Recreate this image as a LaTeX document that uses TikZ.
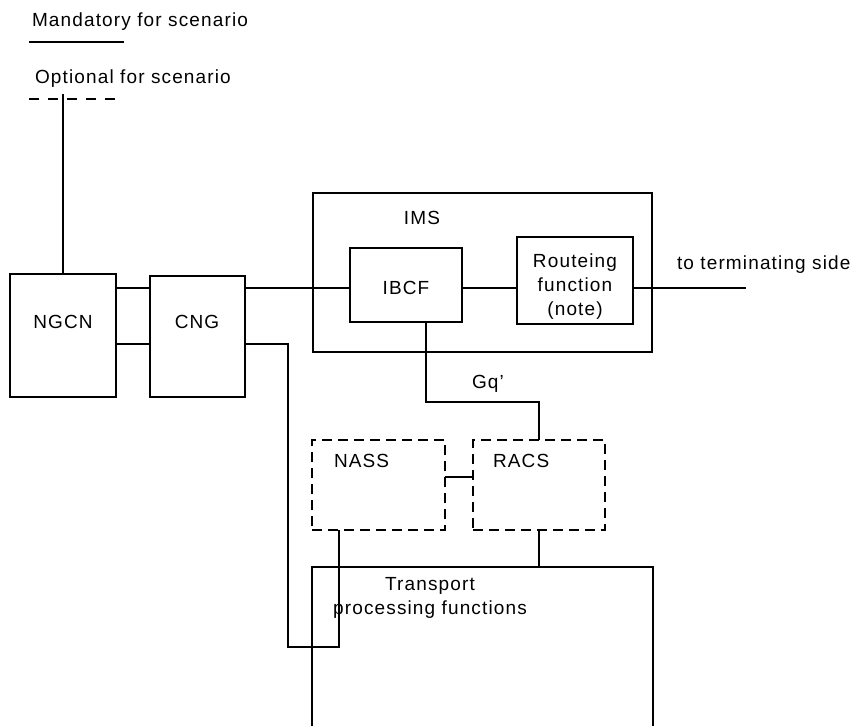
\documentclass[tikz,border=0pt]{standalone}
\usepackage{fontspec}
\setmainfont{Liberation Sans}[LetterSpace=6]
\begin{document}
\begin{tikzpicture}[x=1pt,y=-1pt,
  every node/.style={inner sep=0pt,outer sep=0pt},
  ln/.style={line width=1.3pt},
  box/.style={draw,line width=1.3pt,anchor=north west},
  dbox/.style={draw,line width=1.3pt,anchor=north west,dash pattern=on 10pt off 6pt},
  txt/.style={font=\fontsize{19}{24}\selectfont},
  ctxt/.style={font=\fontsize{19}{24}\selectfont,align=center}]
\useasboundingbox (0,0) rectangle (856,725);
% legend
\node[txt,anchor=west] (mand) at (32,22) {Mandatory for scenario};
\coordinate (m1) at (29,42); \coordinate (m2) at (124,42);
\draw[ln] (m1) -- (m2);
\node[txt,anchor=west] (opt) at (35,79) {Optional for scenario};
\coordinate (o1) at (29,99); \coordinate (o2) at (124,99);
\draw[ln,dash pattern=on 10pt off 9pt] (o1) -- (o2);
\coordinate (lg) at (63,94);
% boxes
\node[box,minimum width=106pt,minimum height=123pt] (ngcn) at (10,274) {};
\node[txt] (ngcnt) at (63,322) {NGCN};
\node[box,minimum width=95pt,minimum height=121pt] (cng) at (150,276) {};
\node[txt] (cngt) at (197,322) {CNG};
\node[box,minimum width=339pt,minimum height=159pt] (ims) at (313,193) {};
\node[txt] (imst) at (422,218) {IMS};
\node[box,minimum width=112pt,minimum height=74pt] (ibcf) at (350,248) {};
\node[txt] (ibcft) at (406,288) {IBCF};
\node[box,minimum width=116pt,minimum height=87pt] (rout) at (517,237) {};
\node[ctxt] (routt) at (575,287) {Routeing\\function\\(note)};
\node[dbox,minimum width=133pt,minimum height=90pt] (nass) at (312,440) {};
\node[txt,anchor=west] (nasst) at (334,461) {NASS};
\node[dbox,minimum width=132pt,minimum height=90pt] (racs) at (473,440) {};
\node[txt,anchor=west] (racst) at (493,461) {RACS};
\coordinate (tpl) at (312,567); \coordinate (tpr) at (653,567);
\coordinate (tbl) at (312,726); \coordinate (tbr) at (653,726);
\draw[ln] (tbl) -- (tpl) -- (tpr) -- (tbr);
\node[ctxt] (tpt) at (430,598) {Transport\\processing functions};
\coordinate (term) at (746,288);
\node[txt,anchor=west] (termt) at (677,265) {to terminating side};
\node[txt,anchor=west] (gq) at (472,384) {Gq'};
% connectors
\draw[ln] (lg) -- (lg |- ngcn.north);
\draw[ln] (ngcn.east |- 0,288) -- (cng.west |- 0,288);
\draw[ln] (ngcn.east |- 0,344) -- (cng.west |- 0,344);
\draw[ln] (cng.east |- 0,288) -- (ibcf.west |- 0,288);
\draw[ln] (ibcf.east |- 0,288) -- (rout.west |- 0,288);
\draw[ln] (rout.east |- 0,288) -- (term);
\draw[ln] (ibcf.south -| 426,0) -- (426,402) -- (539,402) -- (racs.north -| 539,0);
\draw[ln] (nass.east |- 0,477) -- (racs.west |- 0,477);
\draw[ln] (racs.south -| 539,0) -- (tpl -| 539,0);
\draw[ln] (cng.east |- 0,344) -- (288,344) -- (288,647) -- (339,647) -- (nass.south -| 339,0);
\end{tikzpicture}
\end{document}
